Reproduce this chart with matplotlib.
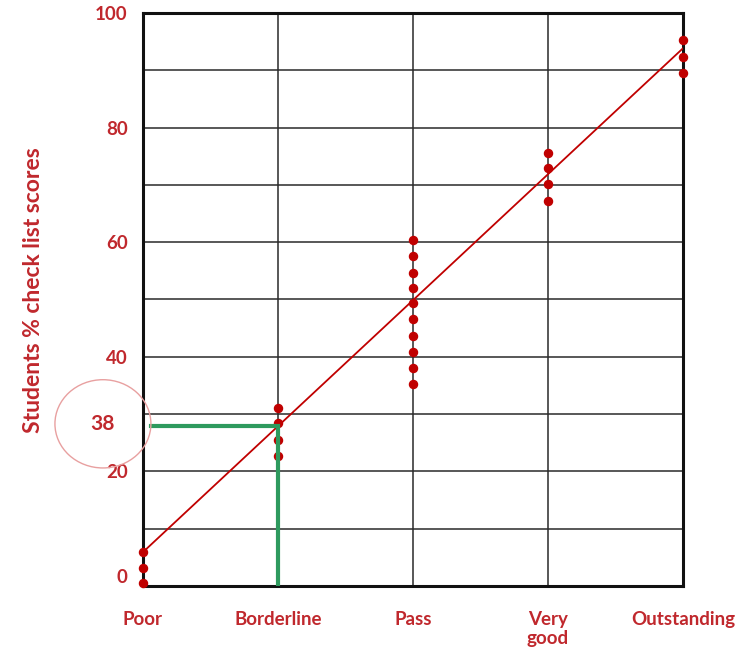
import numpy as np
import matplotlib.pyplot as plt
import matplotlib.transforms as mtransforms
from matplotlib.patches import Ellipse

categories = ["Poor", "Borderline", "Pass", "Very\ngood", "Outstanding"]

# students' checklist scores grouped by global grade
poor_scores = [6.0, 3.2, 0.5]
borderline_scores = [31.0, 28.4, 25.5, 22.7]
pass_scores = [60.3, 57.6, 54.7, 52.0, 49.3, 46.6, 43.6, 40.9, 38.1, 35.3]
very_good_scores = [75.6, 72.9, 70.1, 67.2]
outstanding_scores = [95.2, 92.3, 89.6]

# regression line (score at Poor and at Outstanding)
line_ends = [5.9, 93.8]
cut_score_label = "38"

red = "#C00000"
text_red = "#C0282D"
green = "#2E9A5E"
font = "Lato"

groups = [poor_scores, borderline_scores, pass_scores, very_good_scores, outstanding_scores]

fig = plt.figure(figsize=(7.52, 6.52), dpi=100)
ax = fig.add_axes([0.190, 0.1012, 0.718, 0.879])

for i, g in enumerate(groups):
    ax.plot([i] * len(g), g, "o", color=red, markersize=5.8, clip_on=False, zorder=4)

xs = np.array([0, len(categories) - 1])
ax.plot(xs, line_ends, color=red, lw=1.3, zorder=3)

# borderline group -> cut score on the line
slope = (line_ends[1] - line_ends[0]) / (xs[1] - xs[0])
cut = line_ends[0] + slope * 1
ax.plot([0.06, 1, 1], [cut, cut, 0], color=green, lw=3, solid_joinstyle="miter", zorder=5)

ell = Ellipse((-0.296, 28.3), 0.711, 15.4, fill=False, edgecolor="#E8A0A0", lw=1.0,
              clip_on=False, zorder=6)
ax.add_patch(ell)
ax.text(-0.296, 28.3, cut_score_label, color=text_red, fontsize=15, fontweight="bold",
        ha="center", va="center", family=font, clip_on=False)

ax.set_xlim(0, 4)
ax.set_ylim(0, 100)
ax.set_xticks(range(len(categories)))
ax.set_xticklabels(categories, va="top", linespacing=1.15)
ax.set_yticks(np.arange(0, 101, 20))
ax.set_yticks(np.arange(0, 101, 10), minor=True)
ax.grid(True, which="both", color="#2a2a2a", lw=1.1)
ax.set_axisbelow(True)
ax.tick_params(length=0, which="both")
ax.tick_params(axis="x", pad=18, labelsize=13.5, labelcolor=text_red)
ax.tick_params(axis="y", pad=11, labelsize=13.5, labelcolor=text_red)
for lab in ax.get_xticklabels() + ax.get_yticklabels():
    lab.set_fontweight("bold")
    lab.set_family(font)

# the "0" label sits a little above the axis in the original
fig.canvas.draw()
zero_lab = ax.get_yticklabels()[0]
zero_lab.set_transform(zero_lab.get_transform() +
                       mtransforms.ScaledTranslation(0, 10 / 100, fig.dpi_scale_trans))

for s in ax.spines.values():
    s.set_linewidth(2.2)
    s.set_color("#111111")

ax.set_ylabel("Students % check list scores", color=text_red, fontsize=16.5,
              fontweight="bold", family=font)
ax.yaxis.set_label_coords(-0.183, 0.517)

fig.savefig("out.png", dpi=100)
